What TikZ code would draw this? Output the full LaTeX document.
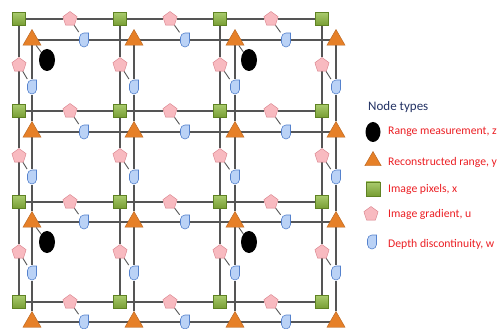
\documentclass[tikz,border=0pt]{standalone}
\usepackage{fontspec}
\setmainfont{Carlito}
\usepackage{tikz}
\usetikzlibrary{shapes.geometric,backgrounds}

\definecolor{pixgreen}{RGB}{140,185,60}
\definecolor{pixgreendark}{RGB}{95,130,35}
\definecolor{rangeorange}{RGB}{230,128,40}
\definecolor{rangeorangedark}{RGB}{180,95,25}
\definecolor{gradpink}{RGB}{248,186,192}
\definecolor{gradpinkdark}{RGB}{215,125,135}
\definecolor{depthblue}{RGB}{186,210,246}
\definecolor{depthbluedark}{RGB}{85,130,205}
\definecolor{gridgray}{RGB}{85,85,85}
\definecolor{legendnavy}{RGB}{35,50,100}
\definecolor{legendred}{RGB}{235,30,35}

\tikzset{
  pixel/.style={draw=pixgreendark, thin, rectangle, minimum size=13pt, inner sep=0,
    top color=pixgreen!75!white, bottom color=pixgreen!85!black},
  recon/.style={draw=rangeorangedark, thin, regular polygon, regular polygon sides=3,
    minimum size=21pt, inner sep=0, fill=rangeorange},
  grad/.style={draw=gradpinkdark, thin, regular polygon, regular polygon sides=5,
    minimum size=15pt, inner sep=0, fill=gradpink},
  depth/.style={rectangle, minimum width=10.5pt, minimum height=15.5pt, inner sep=0,
    path picture={\draw[depthbluedark, line width=.6pt, fill=depthblue,
      shift={(path picture bounding box.center)}]
      (4.5pt,7pt) -- (4.5pt,-2.5pt) arc (0:-180:4.5pt) -- (-4.5pt,2.5pt) arc (180:90:4.5pt) -- cycle;}},
  meas/.style={ellipse, fill=black, minimum width=16pt, minimum height=22pt, inner sep=0},
  gridline/.style={gridgray, line width=1.2pt},
  link/.style={gridgray, line width=.9pt},
  keytext/.style={anchor=west, text=legendred, font=\fontsize{11.7}{14}\selectfont, inner sep=0},
}

\begin{document}
\begin{tikzpicture}[x=1pt, y=-1pt]
\useasboundingbox (0,0) rectangle (499,329);

% image pixels
\node[pixel] (s11) at (19,19) {};
\node[pixel] (s21) at (120,19) {};
\node[pixel] (s31) at (220,19) {};
\node[pixel] (s41) at (322,19) {};
\node[pixel] (s12) at (19,111) {};
\node[pixel] (s22) at (120,111) {};
\node[pixel] (s32) at (220,111) {};
\node[pixel] (s42) at (322,111) {};
\node[pixel] (s13) at (19,202) {};
\node[pixel] (s23) at (120,202) {};
\node[pixel] (s33) at (220,202) {};
\node[pixel] (s43) at (322,202) {};
\node[pixel] (s14) at (19,302) {};
\node[pixel] (s24) at (120,302) {};
\node[pixel] (s34) at (220,302) {};
\node[pixel] (s44) at (322,302) {};

% reconstructed range
\node[recon] (t11) at (32,40) {};
\node[recon] (t21) at (134,40) {};
\node[recon] (t31) at (235,40) {};
\node[recon] (t41) at (336,40) {};
\node[recon] (t12) at (32,132) {};
\node[recon] (t22) at (134,132) {};
\node[recon] (t32) at (235,132) {};
\node[recon] (t42) at (336,132) {};
\node[recon] (t13) at (32,222) {};
\node[recon] (t23) at (134,222) {};
\node[recon] (t33) at (235,222) {};
\node[recon] (t43) at (336,222) {};
\node[recon] (t14) at (32,322) {};
\node[recon] (t24) at (134,322) {};
\node[recon] (t34) at (235,322) {};
\node[recon] (t44) at (336,322) {};

% range measurements
\node[meas] (z11) at (47,60) {};
\node[meas] (z31) at (249,60) {};
\node[meas] (z13) at (47,242) {};
\node[meas] (z33) at (249,242) {};

% gradients on horizontal edges
\node[grad] (ph11) at (70,19) {};
\node[grad] (ph21) at (170,19) {};
\node[grad] (ph31) at (271,19) {};
\node[grad] (ph12) at (70,111) {};
\node[grad] (ph22) at (170,111) {};
\node[grad] (ph32) at (271,111) {};
\node[grad] (ph13) at (70,202) {};
\node[grad] (ph23) at (170,202) {};
\node[grad] (ph33) at (271,202) {};
\node[grad] (ph14) at (70,302) {};
\node[grad] (ph24) at (170,302) {};
\node[grad] (ph34) at (271,302) {};

% gradients on vertical edges
\node[grad] (pv11) at (19,65) {};
\node[grad] (pv21) at (120,65) {};
\node[grad] (pv31) at (220,65) {};
\node[grad] (pv41) at (322,65) {};
\node[grad] (pv12) at (19,156) {};
\node[grad] (pv22) at (120,156) {};
\node[grad] (pv32) at (220,156) {};
\node[grad] (pv42) at (322,156) {};
\node[grad] (pv13) at (19,252) {};
\node[grad] (pv23) at (120,252) {};
\node[grad] (pv33) at (220,252) {};
\node[grad] (pv43) at (322,252) {};

% depth discontinuities
\node[depth] (dh11) at (84,40) {};
\node[depth] (dh21) at (185,40) {};
\node[depth] (dh31) at (286,40) {};
\node[depth] (dh12) at (84,132) {};
\node[depth] (dh22) at (185,132) {};
\node[depth] (dh32) at (286,132) {};
\node[depth] (dh13) at (84,222) {};
\node[depth] (dh23) at (185,222) {};
\node[depth] (dh33) at (286,222) {};
\node[depth] (dh14) at (84,322) {};
\node[depth] (dh24) at (185,322) {};
\node[depth] (dh34) at (286,322) {};

\node[depth] (dv11) at (32,87) {};
\node[depth] (dv21) at (134,87) {};
\node[depth] (dv31) at (235,87) {};
\node[depth] (dv41) at (336,87) {};
\node[depth] (dv12) at (32,177) {};
\node[depth] (dv22) at (134,177) {};
\node[depth] (dv32) at (235,177) {};
\node[depth] (dv42) at (336,177) {};
\node[depth] (dv13) at (32,273) {};
\node[depth] (dv23) at (134,273) {};
\node[depth] (dv33) at (235,273) {};
\node[depth] (dv43) at (336,273) {};

\begin{scope}[on background layer]
\draw[gridline] (s11) -- (ph11) -- (s21) -- (ph21) -- (s31) -- (ph31) -- (s41);
\draw[gridline] (s12) -- (ph12) -- (s22) -- (ph22) -- (s32) -- (ph32) -- (s42);
\draw[gridline] (s13) -- (ph13) -- (s23) -- (ph23) -- (s33) -- (ph33) -- (s43);
\draw[gridline] (s14) -- (ph14) -- (s24) -- (ph24) -- (s34) -- (ph34) -- (s44);
\draw[gridline] (s11) -- (pv11) -- (s12) -- (pv12) -- (s13) -- (pv13) -- (s14);
\draw[gridline] (s21) -- (pv21) -- (s22) -- (pv22) -- (s23) -- (pv23) -- (s24);
\draw[gridline] (s31) -- (pv31) -- (s32) -- (pv32) -- (s33) -- (pv33) -- (s34);
\draw[gridline] (s41) -- (pv41) -- (s42) -- (pv42) -- (s43) -- (pv43) -- (s44);

\draw[gridline] (t11) -- (dh11) -- (t21) -- (dh21) -- (t31) -- (dh31) -- (t41);
\draw[gridline] (t12) -- (dh12) -- (t22) -- (dh22) -- (t32) -- (dh32) -- (t42);
\draw[gridline] (t13) -- (dh13) -- (t23) -- (dh23) -- (t33) -- (dh33) -- (t43);
\draw[gridline] (t14) -- (dh14) -- (t24) -- (dh24) -- (t34) -- (dh34) -- (t44);
\draw[gridline] (t11) -- (dv11) -- (t12) -- (dv12) -- (t13) -- (dv13) -- (t14);
\draw[gridline] (t21) -- (dv21) -- (t22) -- (dv22) -- (t23) -- (dv23) -- (t24);
\draw[gridline] (t31) -- (dv31) -- (t32) -- (dv32) -- (t33) -- (dv33) -- (t34);
\draw[gridline] (t41) -- (dv41) -- (t42) -- (dv42) -- (t43) -- (dv43) -- (t44);

\draw[link] (ph11) -- (dh11);
\draw[link] (ph21) -- (dh21);
\draw[link] (ph31) -- (dh31);
\draw[link] (ph12) -- (dh12);
\draw[link] (ph22) -- (dh22);
\draw[link] (ph32) -- (dh32);
\draw[link] (ph13) -- (dh13);
\draw[link] (ph23) -- (dh23);
\draw[link] (ph33) -- (dh33);
\draw[link] (ph14) -- (dh14);
\draw[link] (ph24) -- (dh24);
\draw[link] (ph34) -- (dh34);

\draw[link] (pv11) -- (dv11);
\draw[link] (pv21) -- (dv21);
\draw[link] (pv31) -- (dv31);
\draw[link] (pv41) -- (dv41);
\draw[link] (pv12) -- (dv12);
\draw[link] (pv22) -- (dv22);
\draw[link] (pv32) -- (dv32);
\draw[link] (pv42) -- (dv42);
\draw[link] (pv13) -- (dv13);
\draw[link] (pv23) -- (dv23);
\draw[link] (pv33) -- (dv33);
\draw[link] (pv43) -- (dv43);

\draw[link] (t11) -- (z11);
\draw[link] (t31) -- (z31);
\draw[link] (t13) -- (z13);
\draw[link] (t33) -- (z33);
\end{scope}

% legend
\node[anchor=west, text=legendnavy, font=\fontsize{13}{15}\selectfont, inner sep=0] (title) at (368,107) {Node types};
\node[meas, minimum width=15pt, minimum height=20pt] (keyz) at (373,132) {};
\node[recon, minimum size=19pt] (keyy) at (373,161) {};
\node[pixel, minimum size=14pt] (keyx) at (373,189) {};
\node[grad] (keyu) at (371,214) {};
\node[depth] (keyw) at (372,242) {};
\node[keytext] (labz) at (388,132) {Range measurement, z};
\node[keytext] (laby) at (388,162) {Reconstructed range, y};
\node[keytext] (labx) at (388,189) {Image pixels, x};
\node[keytext] (labu) at (388,214) {Image gradient, u};
\node[keytext] (labw) at (388,244) {Depth discontinuity, w};
\end{tikzpicture}
\end{document}
